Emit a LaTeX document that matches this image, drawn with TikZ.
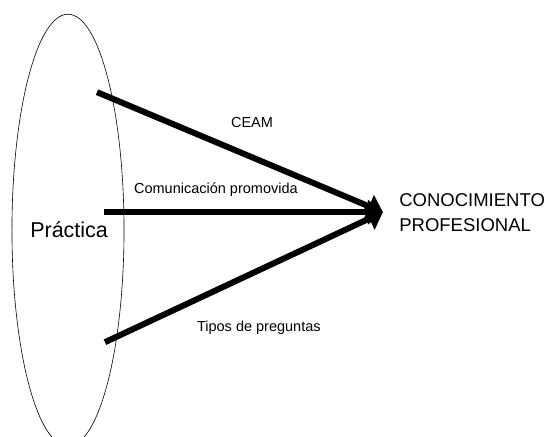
\documentclass[tikz,border=0pt]{standalone}
\usepackage{fontspec}
\setmainfont{Liberation Sans}
\usetikzlibrary{arrows.meta}

\begin{document}
\begin{tikzpicture}[
	flow/.style={line width=6pt,-{Triangle[length=15pt,width=24pt]}},
	lbl/.style={font=\fontsize{14.5pt}{17pt}\selectfont,inner sep=0pt}
	]
					\useasboundingbox (0,0) rectangle (19.44,15.33);
					%Practica
					\draw[line width=0.6pt] (2.39,7.24) ellipse (1.97cm and 7.59cm);
					\node[inner sep=0pt,font=\fontsize{21.5pt}{24pt}\selectfont] (practica) at (2.43,7.24) {Práctica};
					%Conocimiento
					\node[anchor=west,align=left,inner sep=0pt,font=\fontsize{18.5pt}{25pt}\selectfont] (conoc) at (14.03,7.86) {CONOCIMIENTO\\PROFESIONAL};
					\coordinate (tip) at (13.46,7.87);
					%Arrows
					\coordinate (a) at (3.41,12.09);
					\coordinate (b) at (3.66,7.87);
					\coordinate (c) at (3.69,3.30);
					\draw[flow] (a)--(tip);
					\draw[flow] (b)--(tip);
					\draw[flow] (c)--(tip);
					%Labels
					\node[lbl] (ceam) at (8.86,11.04) {CEAM};
					\node[lbl] (comun) at (7.59,8.68) {Comunicación promovida};
					\node[lbl] (tipos) at (9.10,3.80) {Tipos de preguntas};
					
					\end{tikzpicture}
\end{document}
